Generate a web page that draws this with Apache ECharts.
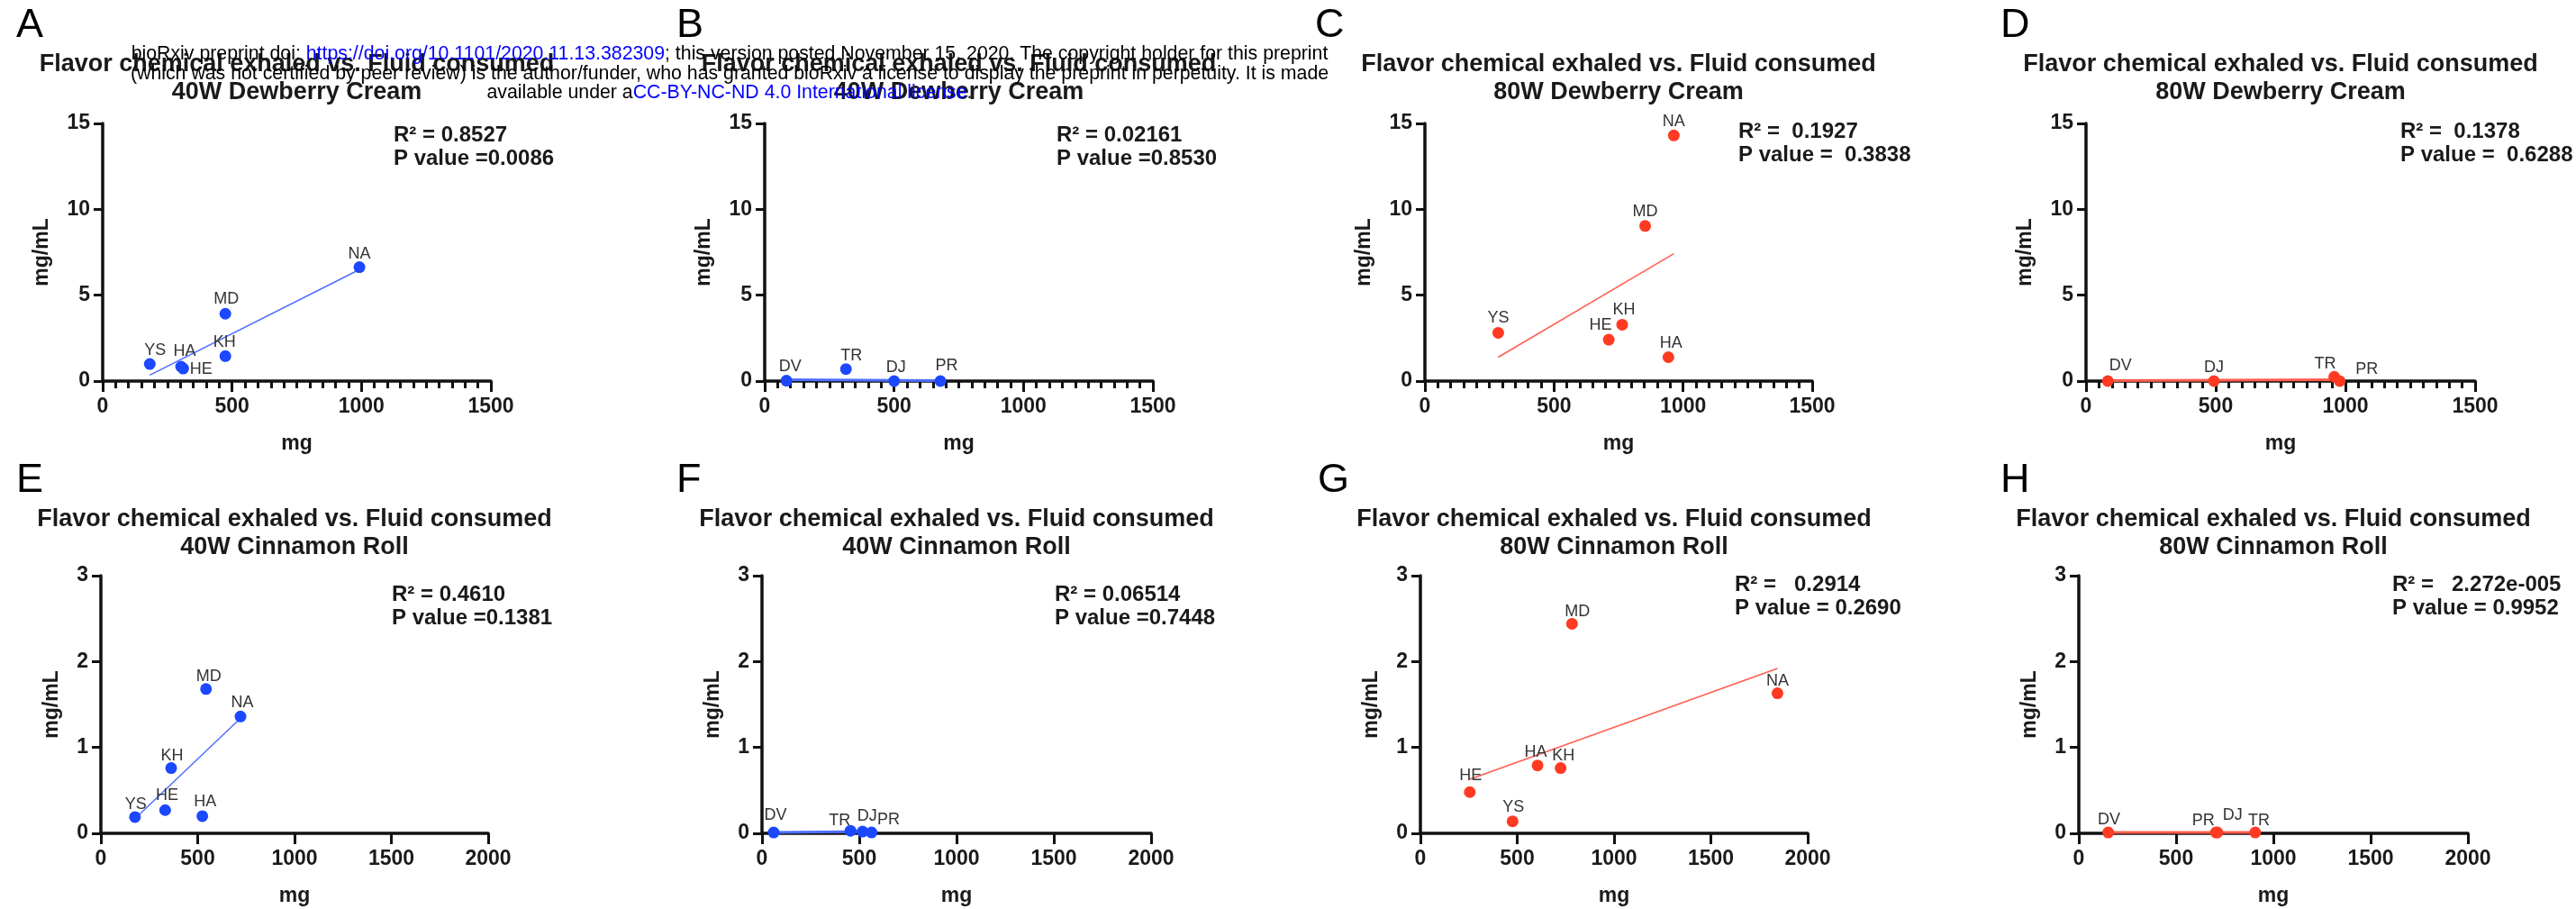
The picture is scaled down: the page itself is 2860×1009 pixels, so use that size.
<!DOCTYPE html>
<html>
<head>
<meta charset="utf-8">
<title>Flavor chemical exhaled vs. Fluid consumed</title>
<script src="https://cdn.jsdelivr.net/npm/echarts@6/dist/echarts.min.js"></script>
<style>
  html, body { margin: 0; padding: 0; background: #fff; }
  #chart { width: 2860px; height: 1009px; }
</style>
</head>
<body>
<div id="chart"></div>
<script>
// ---- data (x = mg fluid consumed, y = mg/mL exhaled) ----

// A: 40W Dewberry Cream
var namesA = ['YS', 'HA', 'HE', 'KH', 'MD', 'NA'];
var xA = [182, 303, 311, 474, 474, 992];
var yA = [0.99, 0.84, 0.73, 1.45, 3.92, 6.63];
var fitA = [[182, 0.35], [992, 6.49]];

// B: 40W Dewberry Cream
var namesB = ['DV', 'TR', 'DJ', 'PR'];
var xB = [84, 314, 500, 679];
var yB = [0.02, 0.70, 0, 0];
var fitB = [[84, 0.08], [679, 0.03]];

// C: 80W Dewberry Cream
var namesC = ['YS', 'HE', 'KH', 'MD', 'HA', 'NA'];
var xC = [284, 712, 764, 853, 943, 964];
var yC = [2.81, 2.41, 3.28, 9.03, 1.39, 14.3];
var fitC = [[284, 1.39], [964, 7.41]];

// D: 80W Dewberry Cream
var namesD = ['DV', 'DJ', 'TR', 'PR'];
var xD = [84, 493, 957, 978];
var yD = [0, 0, 0.25, 0];
var fitD = [[84, 0.03], [978, 0.08]];

// E: 40W Cinnamon Roll
var namesE = ['YS', 'HE', 'KH', 'HA', 'MD', 'NA'];
var xE = [176, 332, 363, 524, 543, 721];
var yE = [0.19, 0.27, 0.76, 0.20, 1.68, 1.36];
var fitE = [[176, 0.17], [721, 1.34]];

// F: 40W Cinnamon Roll
var namesF = ['DV', 'TR', 'DJ', 'PR'];
var xF = [60, 455, 517, 563];
var yF = [0.01, 0.03, 0.02, 0.01];
var fitF = [[60, 0.01], [563, 0.02]];

// G: 80W Cinnamon Roll
var namesG = ['HE', 'YS', 'HA', 'KH', 'MD', 'NA'];
var xG = [255, 476, 605, 724, 783, 1844];
var yG = [0.48, 0.14, 0.79, 0.76, 2.44, 1.63];
var fitG = [[255, 0.63], [1844, 1.92]];

// H: 80W Cinnamon Roll
var namesH = ['DV', 'PR', 'DJ', 'TR'];
var xH = [151, 705, 712, 907];
var yH = [0.01, 0.01, 0.01, 0.01];
var fitH = [[151, 0.01], [907, 0.01]];

var letters = ['A', 'B', 'C', 'D', 'E', 'F', 'G', 'H'];
var subtitles = ['40W Dewberry Cream', '40W Dewberry Cream', '80W Dewberry Cream', '80W Dewberry Cream',
                 '40W Cinnamon Roll', '40W Cinnamon Roll', '80W Cinnamon Roll', '80W Cinnamon Roll'];
var statR2 = ['R² = 0.8527', 'R² = 0.02161', 'R² =  0.1927', 'R² =  0.1378',
              'R² = 0.4610', 'R² = 0.06514', 'R² =   0.2914', 'R² =   2.272e-005'];
var statP = ['P value =0.0086', 'P value =0.8530', 'P value =  0.3838', 'P value =  0.6288',
             'P value =0.1381', 'P value =0.7448', 'P value = 0.2690', 'P value = 0.9952'];
var xMaxTop = 1500, xMaxBottom = 2000, xStep = 500;
var yMaxTop = 15, yStepTop = 5, yMaxBottom = 3, yStepBottom = 1;

// ---- layout / styles ----
var FONT = '"Liberation Sans", Arial, Helvetica, sans-serif';
var BLUE = '#1c48ff', RED = '#ff3a22';
var BLUE_FIT = '#4f6dff', RED_FIT = '#ff5d4e';
var AXIS = '#111';

var gridLeft = [114, 849, 1582, 2316, 112, 846, 1577, 2308];
var gridRight = [545, 1280, 2012, 2748, 542, 1278, 2007, 2740];
var rowTop = [137, 639];
var plotH = 286;
var textRowOff = 505;
var letterX = [18, 751, 1460, 2221, 18, 751, 1463, 2221];
var statX = [437, 1173, 1930, 2665, 435, 1171, 1926, 2656];
var statY = [150, 150, 146, 146, 660, 660, 649, 649];
var fitWidth = [1.5, 3, 1.5, 3, 1.5, 3, 1.5, 3];

// label offsets (px) from point centre
var labelOff = [
  [[6, -15], [4, -17], [20, 1], [-1, -15], [1, -16], [0, -15]],
  [[4, -16], [6, -15], [2, -15], [7, -17]],
  [[0, -16], [-9, -16], [2, -16], [0, -16], [3, -15], [0, -15]],
  [[14, -17], [0, -15], [-10, -14], [30, -13]],
  [[1, -14], [2, -16], [1, -14], [3, -16], [3, -14], [2, -15]],
  [[2, -19], [-12, -11], [5, -17], [19, -14]],
  [[1, -18], [1, -16], [-2, -15], [3, -14], [6, -13], [0, -14]],
  [[1, -14], [-14, -13], [17, -19], [4, -13]]
];

var panelData = [
  [namesA, xA, yA, fitA], [namesB, xB, yB, fitB], [namesC, xC, yC, fitC], [namesD, xD, yD, fitD],
  [namesE, xE, yE, fitE], [namesF, xF, yF, fitF], [namesG, xG, yG, fitG], [namesH, xH, yH, fitH]
];

var grids = [], xAxes = [], yAxes = [], series = [], graphics = [];

function plainNum(v) { return String(v); }

for (var i = 0; i < 8; i++) {
  var row = i < 4 ? 0 : 1;
  var d = panelData[i];
  var isBlue = (i % 4) < 2;
  grids.push({ left: gridLeft[i], top: rowTop[row], width: gridRight[i] - gridLeft[i], height: plotH });

  xAxes.push({
    type: 'value', gridIndex: i, position: 'bottom',
    min: 0, max: row === 0 ? xMaxTop : xMaxBottom, interval: xStep,
    axisLine: { show: true, onZero: false, lineStyle: { color: AXIS, width: 3.5 } },
    axisTick: { show: true, length: 12, lineStyle: { color: AXIS, width: 3 } },
    // top row has minor ticks every 50 mg
    minorTick: { show: row === 0, splitNumber: 10, length: 8, lineStyle: { color: AXIS, width: 3 } },
    splitLine: { show: false },
    minorSplitLine: { show: false },
    axisLabel: { margin: 17, fontFamily: FONT, fontWeight: 'bold', fontSize: 23, color: '#1a1a1a', formatter: plainNum },
    name: 'mg', nameLocation: 'middle', nameGap: 58,
    nameTextStyle: { fontFamily: FONT, fontWeight: 'bold', fontSize: 23, color: '#1a1a1a' }
  });

  yAxes.push({
    type: 'value', gridIndex: i,
    min: 0, max: row === 0 ? yMaxTop : yMaxBottom, interval: row === 0 ? yStepTop : yStepBottom,
    axisLine: { show: true, onZero: false, lineStyle: { color: AXIS, width: 3.5 } },
    axisTick: { show: true, length: 10, lineStyle: { color: AXIS, width: 3 } },
    splitLine: { show: false },
    axisLabel: { margin: 14, fontFamily: FONT, fontWeight: 'bold', fontSize: 23, color: '#1a1a1a', formatter: plainNum },
    name: 'mg/mL', nameLocation: 'middle', nameRotate: 90, nameGap: row === 0 ? 56 : 43,
    nameTextStyle: { fontFamily: FONT, fontWeight: 'bold', fontSize: 23, color: '#1a1a1a' }
  });

  // linear fit line
  series.push({
    type: 'line', xAxisIndex: i, yAxisIndex: i, data: d[3],
    symbol: 'none', showSymbol: false, silent: true, clip: false, z: 2,
    lineStyle: { color: isBlue ? BLUE_FIT : RED_FIT, width: fitWidth[i] }
  });

  var items = d[0].map(function (n, k) {
    return { name: n, value: [d[1][k], d[2][k]], label: { offset: labelOff[i][k] } };
  });
  series.push({
    type: 'scatter', xAxisIndex: i, yAxisIndex: i, data: items,
    symbolSize: 13, clip: false, z: 3,
    itemStyle: { color: isBlue ? BLUE : RED, opacity: 1 },
    label: { show: true, position: 'inside', formatter: '{b}', fontFamily: FONT, fontSize: 18, color: '#333' }
  });

  var cx = (gridLeft[i] + gridRight[i]) / 2;
  var rowOff = row * textRowOff;
  graphics.push({
    type: 'text', x: letterX[i], y: 29 + rowOff, z: 10,
    style: { text: letters[i], font: '45px ' + FONT, fill: '#000', textAlign: 'left', textVerticalAlign: 'middle' }
  });
  graphics.push({
    type: 'text', x: cx, y: 87.5 + rowOff, z: 10,
    style: {
      text: 'Flavor chemical exhaled vs. Fluid consumed\n' + subtitles[i],
      font: 'bold 27px ' + FONT, lineHeight: 31, fill: '#1a1a1a',
      textAlign: 'center', textVerticalAlign: 'middle'
    }
  });
  graphics.push({
    type: 'text', x: statX[i], y: statY[i], z: 10,
    style: { text: statR2[i], font: 'bold 24px ' + FONT, fill: '#1a1a1a', textAlign: 'left', textVerticalAlign: 'middle' }
  });
  graphics.push({
    type: 'text', x: statX[i], y: statY[i] + 26, z: 10,
    style: { text: statP[i], font: 'bold 24px ' + FONT, fill: '#1a1a1a', textAlign: 'left', textVerticalAlign: 'middle' }
  });
}

// bioRxiv stamp across the top
var HFONT = '21.3px ' + FONT;
var headerLines = [
  'bioRxiv preprint doi: {u|https://doi.org/10.1101/2020.11.13.382309}; this version posted November 15, 2020. The copyright holder for this preprint',
  '(which was not certified by peer review) is the author/funder, who has granted bioRxiv a license to display the preprint in perpetuity. It is made',
  'available under a{u|CC-BY-NC-ND 4.0 International license}.'
];
var headerY = [60, 82, 103];
headerLines.forEach(function (t, k) {
  graphics.push({
    type: 'text', x: 810, y: headerY[k], z: 20,
    style: {
      text: t, font: HFONT, fill: '#000', textAlign: 'center', textVerticalAlign: 'middle',
      rich: { u: { fill: '#0000ff', font: HFONT } }
    }
  });
});

var chart = echarts.init(document.getElementById('chart'), null, { renderer: 'canvas' });
chart.setOption({
  backgroundColor: '#fff',
  animation: false,
  grid: grids,
  xAxis: xAxes,
  yAxis: yAxes,
  series: series,
  graphic: { elements: graphics }
});
</script>
</body>
</html>
